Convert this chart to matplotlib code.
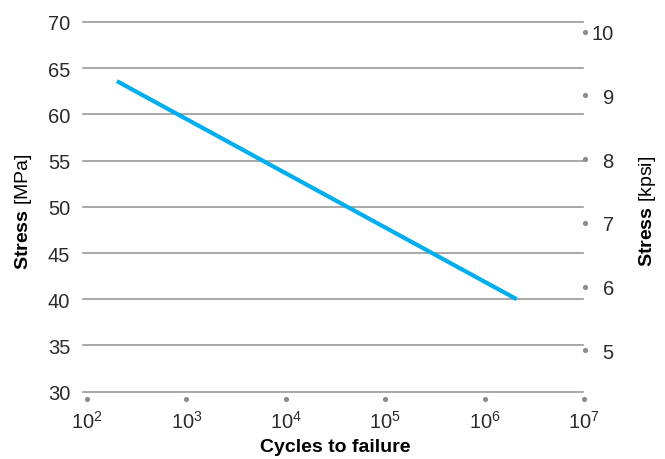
import numpy as np
import matplotlib
matplotlib.use('Agg')
import matplotlib.pyplot as plt
import matplotlib.transforms as mtransforms

plt.rcParams['font.family'] = ['Liberation Sans', 'DejaVu Sans']
plt.rcParams['mathtext.fontset'] = 'custom'
plt.rcParams['mathtext.rm'] = 'Liberation Sans'
plt.rcParams['mathtext.bf'] = 'Liberation Sans:bold'
plt.rcParams['text.color'] = '#2b2b2b'

# S-N curve end points
cycles = [2e2, 2.1e6]
stress_mpa = [63.6, 40.0]

mpa_ticks = [30, 35, 40, 45, 50, 55, 60, 65, 70]
kpsi_ticks = [5, 6, 7, 8, 9, 10]
cycle_ticks = [1e2, 1e3, 1e4, 1e5, 1e6, 1e7]
cycle_labels = ['$10^{2}$', '$10^{3}$', '$10^{4}$', '$10^{5}$', '$10^{6}$', '$10^{7}$']
MPA_PER_KPSI = 6.89476

grid_color = '#9a9a9a'
dot_color = '#8c8c8c'
line_color = '#00aeef'
text_color = '#2b2b2b'

fig = plt.figure(figsize=(6.65, 4.6), dpi=100)
ax = fig.add_axes([87 / 665, 60 / 460, 497 / 665, 377 / 460])

ymin, ymax = 29.2, 70
ax.set_xscale('log')
ax.set_xlim(1e2, 1e7)
ax.set_ylim(ymin, ymax)

for y in mpa_ticks:
    ax.axhline(y, xmin=-0.008, xmax=0.998, color=grid_color, lw=1.2, clip_on=False, zorder=1)

ax.plot(cycles, stress_mpa, color=line_color, lw=3, solid_capstyle='butt', zorder=3)

for s in ax.spines.values():
    s.set_visible(False)

ax.set_yticks(mpa_ticks)
ax.set_yticklabels([str(t) for t in mpa_ticks])
ax.tick_params(axis='y', length=0, pad=12, labelsize=14.5, labelcolor=text_color)
ax.set_xticks(cycle_ticks)
ax.set_xticklabels(cycle_labels)
ax.xaxis.set_minor_locator(matplotlib.ticker.NullLocator())
ax.tick_params(axis='x', length=0, pad=8, labelsize=14.5, labelcolor=text_color)

# dots under the x ticks
trans_x = mtransforms.blended_transform_factory(ax.transData, ax.transAxes)
ax.scatter(cycle_ticks, [0] * len(cycle_ticks), s=14, color=dot_color, transform=trans_x,
           clip_on=False, zorder=2, linewidths=0)

ax.set_xlabel('Cycles to failure', fontsize=14, fontweight='bold', labelpad=4)
ax.set_ylabel(r'$\bf{Stress}$ [MPa]', fontsize=14, labelpad=10)

# right axis in kpsi
ax2 = ax.twinx()
ax2.set_ylim(ymin / MPA_PER_KPSI, ymax / MPA_PER_KPSI)
for s in ax2.spines.values():
    s.set_visible(False)
ax2.set_yticks(kpsi_ticks)
ax2.set_yticklabels([str(t) for t in kpsi_ticks])
ax2.tick_params(axis='y', length=0, pad=21.5, labelsize=14.5, labelcolor=text_color)
for lab in ax2.get_yticklabels():
    lab.set_horizontalalignment('right')
trans_y = mtransforms.blended_transform_factory(ax2.transAxes, ax2.transData)
ax2.scatter([1.003] * len(kpsi_ticks), kpsi_ticks, s=14, color=dot_color, transform=trans_y,
            clip_on=False, zorder=2, linewidths=0)
ax2.set_ylabel(r'$\bf{Stress}$ [kpsi]', fontsize=14, labelpad=17)

fig.savefig('out.png', dpi=100)
